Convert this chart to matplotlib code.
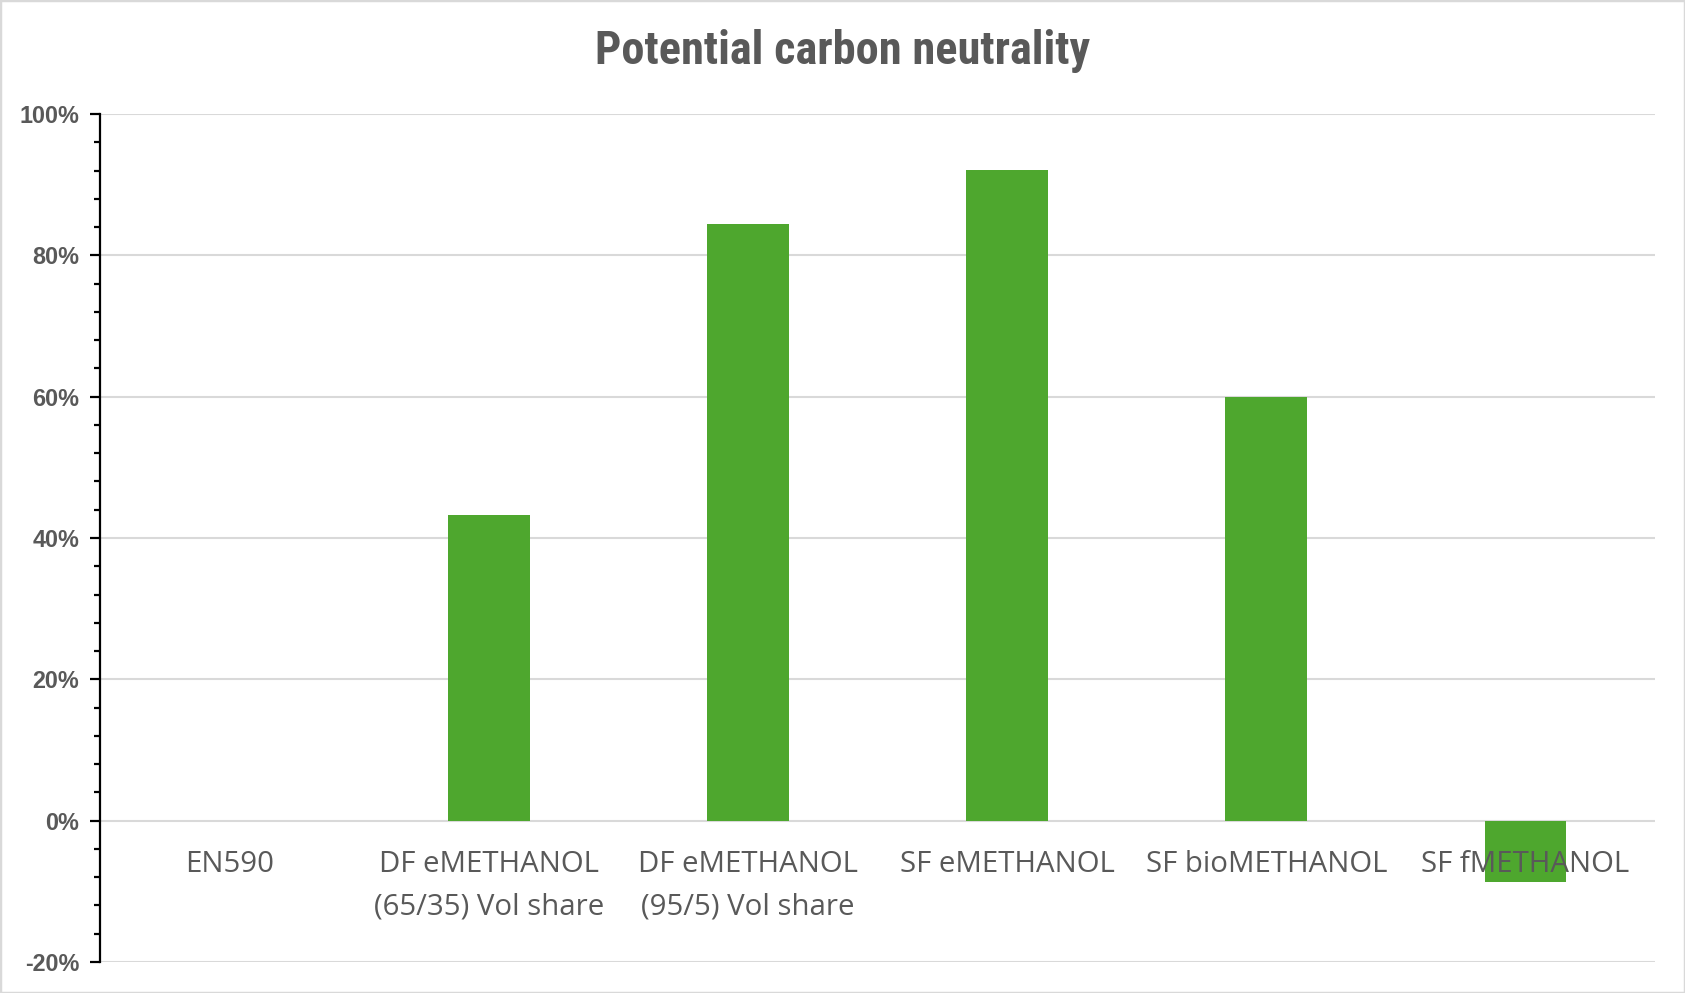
import matplotlib
matplotlib.use("Agg")
import matplotlib.pyplot as plt
from matplotlib import font_manager
from matplotlib.patches import Rectangle
from matplotlib.ticker import MultipleLocator, FuncFormatter

categories = ["EN590", "DF eMETHANOL\n(65/35) Vol share", "DF eMETHANOL\n(95/5) Vol share",
              "SF eMETHANOL", "SF bioMETHANOL", "SF fMETHANOL"]
neutrality = [0.0, 43.3, 84.4, 92.1, 60.0, -8.7]
y_ticks = [-20, 0, 20, 40, 60, 80, 100]

installed = {f.name for f in font_manager.fontManager.ttflist}


def pick(*names):
    for n in names:
        if n in installed:
            return n
    return "DejaVu Sans"


title_font = pick("Liberation Sans Narrow", "Roboto Condensed", "Roboto")
label_font = pick("Open Sans", "Roboto", "Lato")
tick_font = pick("Liberation Sans", "Arimo", "DejaVu Sans")

GREEN = "#4ea72e"
GRID = "#d9d9d9"
TEXT = "#595959"

fig = plt.figure(figsize=(16.85, 9.93), dpi=100)
ax = fig.add_axes([100 / 1685, 1 - 962 / 993, 1555 / 1685, (962 - 114) / 993])

x = list(range(len(categories)))
ax.bar(x, neutrality, width=0.315, color=GREEN, linewidth=0, zorder=3)

ax.set_xlim(-0.5, len(categories) - 0.5)
ax.set_ylim(y_ticks[0], y_ticks[-1])
ax.set_yticks(y_ticks)
ax.yaxis.set_minor_locator(MultipleLocator(4))
ax.yaxis.set_major_formatter(FuncFormatter(lambda v, _: f"{v:.0f}%"))
ax.grid(axis="y", which="major", color=GRID, linewidth=1.5, zorder=0)
ax.set_xticks([])

for side in ("top", "right", "bottom"):
    ax.spines[side].set_visible(False)
ax.spines["left"].set_linewidth(1.6)
ax.spines["left"].set_color("black")
ax.spines["left"].set_zorder(4)

ax.tick_params(axis="y", which="major", length=7, width=1.6, color="black", pad=8,
               labelsize=16.8, labelcolor=TEXT)
ax.tick_params(axis="y", which="minor", length=4, width=1.6, color="black")
for lbl in ax.get_yticklabels():
    lbl.set_fontfamily(tick_font)
    lbl.set_fontweight("bold")

for xi, name in zip(x, categories):
    ax.annotate(name, xy=(xi, 0), xytext=(0, -21), textcoords="offset points",
                ha="center", va="top", fontsize=21.2, color=TEXT,
                family=label_font, linespacing=1.62, zorder=5)

fig.text(0.5, 1 - 51 / 993, "Potential carbon neutrality", ha="center", va="center",
         fontsize=33.4, fontweight="bold", color=TEXT, family=title_font)

fig.patches.append(Rectangle((0, 0), 1, 1, transform=fig.transFigure, fill=False,
                             edgecolor=GRID, linewidth=2.5))

fig.savefig("out.png", dpi=100, facecolor="white")
